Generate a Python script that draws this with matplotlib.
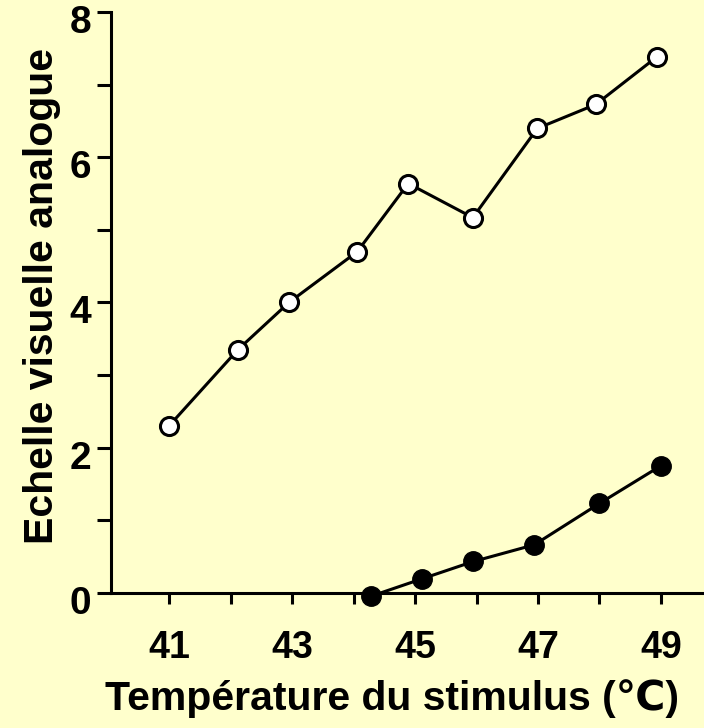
import matplotlib
matplotlib.use('Agg')
import matplotlib.pyplot as plt
import matplotlib.transforms as mtransforms

# temperature (deg C) / visual analogue scale readings
temp_open = [41.0, 42.12, 42.95, 44.06, 44.89, 45.94, 46.99, 47.94, 48.94]
vas_open = [2.30, 3.35, 4.00, 4.70, 5.64, 5.17, 6.40, 6.73, 7.39]

temp_filled = [44.28, 45.11, 45.95, 46.94, 48.0, 49.0]
vas_filled = [-0.05, 0.19, 0.43, 0.66, 1.23, 1.75]

x_ticks = [41, 42, 43, 44, 45, 46, 47, 48, 49]
x_tick_labels = ['41', '', '43', '', '45', '', '47', '', '49']
y_ticks = [0, 1, 2, 3, 4, 5, 6, 7, 8]
y_tick_labels = ['0', '', '2', '', '4', '', '6', '', '8']

x_label = 'Température du stimulus (℃)'
y_label = 'Echelle visuelle analogue'

bg = '#FFFFCC'
fonts = ['Liberation Sans', 'DejaVu Sans']
plt.rcParams['font.family'] = fonts
plt.rcParams['font.weight'] = 'bold'

fig = plt.figure(figsize=(7.04, 7.28), dpi=100, facecolor=bg)
ax = fig.add_axes([0.1572, 0.1859, 0.8428, 0.7972], facecolor=bg)

lw = 2.2
ax.plot(temp_open, vas_open, '-o', color='black', lw=lw, markersize=13,
        markerfacecolor='white', markeredgecolor='black', markeredgewidth=2.2,
        clip_on=False, zorder=3)
ax.plot(temp_filled, vas_filled, '-o', color='black', lw=lw, markersize=14,
        markerfacecolor='black', markeredgecolor='black',
        clip_on=False, zorder=3)

ax.set_xlim(40.05, 49.7)
ax.set_ylim(0, 8)

for side in ['top', 'right']:
    ax.spines[side].set_visible(False)
for side in ['left', 'bottom']:
    ax.spines[side].set_linewidth(lw)

ax.set_xticks(x_ticks)
ax.set_xticklabels(x_tick_labels, fontweight='bold')
ax.set_yticks(y_ticks)
ax.set_yticklabels(y_tick_labels, fontweight='bold')
ax.tick_params(axis='x', length=8, width=lw, pad=19, direction='out',
               labelsize=27)
ax.tick_params(axis='y', length=10, width=lw, pad=4, direction='out',
               labelsize=28)

# labels on the y axis sit a little below their ticks in the original
shift = mtransforms.ScaledTranslation(0, -0.07, fig.dpi_scale_trans)
for lab in ax.get_yticklabels():
    lab.set_transform(lab.get_transform() + shift)

fig.text(0.557, 0.0247, x_label, fontsize=29.5, fontweight='bold',
         ha='center', va='baseline', family=fonts)
fig.text(0.0757, 0.5934, y_label, fontsize=29.5, fontweight='bold',
         rotation=90, rotation_mode='anchor', ha='center', va='baseline',
         family=fonts)

fig.savefig('out.png', dpi=100, facecolor=bg)
